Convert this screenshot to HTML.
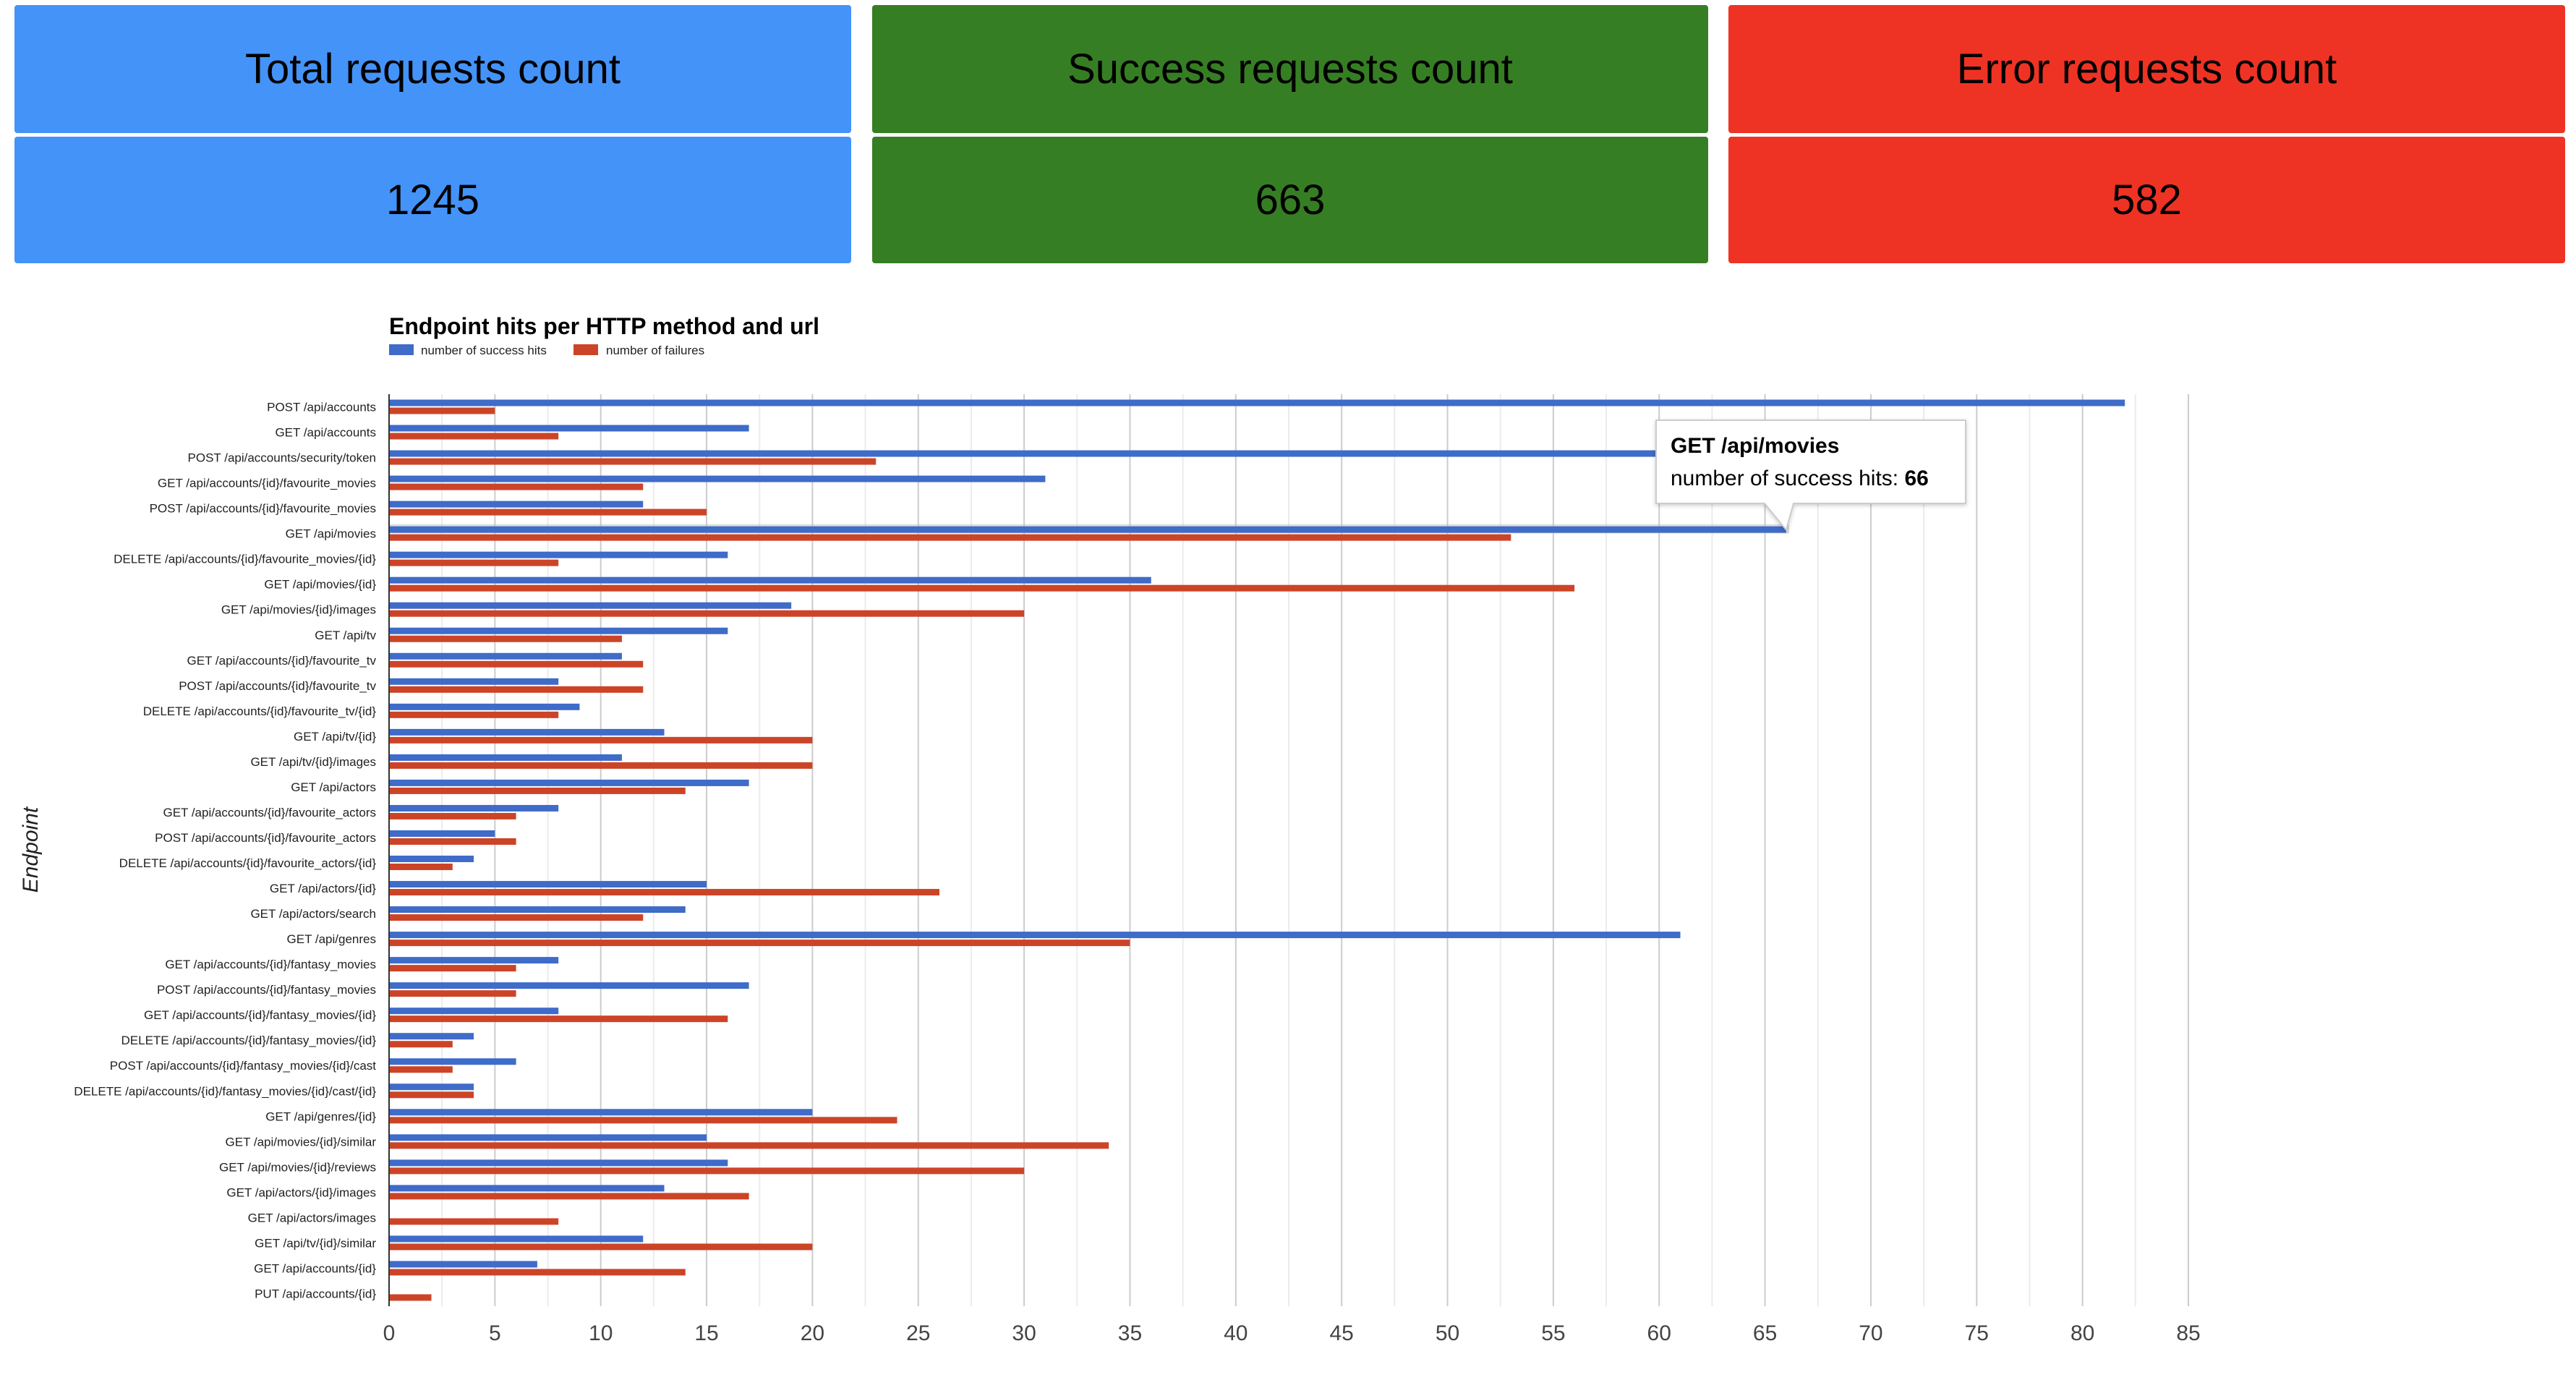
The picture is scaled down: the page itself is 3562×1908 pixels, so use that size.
<!DOCTYPE html>
<html><head><meta charset="utf-8">
<style>
html,body{margin:0;padding:0;background:#fff;width:3562px;height:1908px;overflow:hidden;font-family:"Liberation Sans",Arial,sans-serif}
.card{position:absolute;color:#000;display:flex;align-items:center;justify-content:center;font-size:58px;border-radius:4px}
</style></head><body>
<div class="card" style="left:20px;top:7px;width:1157px;height:177px;background:#4493f8">Total requests count</div>
<div class="card" style="left:20px;top:189px;width:1157px;height:175px;background:#4493f8">1245</div>
<div class="card" style="left:1206px;top:7px;width:1156px;height:177px;background:#367e23">Success requests count</div>
<div class="card" style="left:1206px;top:189px;width:1156px;height:175px;background:#367e23">663</div>
<div class="card" style="left:2390px;top:7px;width:1157px;height:177px;background:#ee3324">Error requests count</div>
<div class="card" style="left:2390px;top:189px;width:1157px;height:175px;background:#ee3324">582</div>
<svg id="chart" width="3562" height="1908" style="position:absolute;left:0;top:0" xmlns="http://www.w3.org/2000/svg"></svg>
<script>
const categories=["POST /api/accounts","GET /api/accounts","POST /api/accounts/security/token","GET /api/accounts/{id}/favourite_movies","POST /api/accounts/{id}/favourite_movies","GET /api/movies","DELETE /api/accounts/{id}/favourite_movies/{id}","GET /api/movies/{id}","GET /api/movies/{id}/images","GET /api/tv","GET /api/accounts/{id}/favourite_tv","POST /api/accounts/{id}/favourite_tv","DELETE /api/accounts/{id}/favourite_tv/{id}","GET /api/tv/{id}","GET /api/tv/{id}/images","GET /api/actors","GET /api/accounts/{id}/favourite_actors","POST /api/accounts/{id}/favourite_actors","DELETE /api/accounts/{id}/favourite_actors/{id}","GET /api/actors/{id}","GET /api/actors/search","GET /api/genres","GET /api/accounts/{id}/fantasy_movies","POST /api/accounts/{id}/fantasy_movies","GET /api/accounts/{id}/fantasy_movies/{id}","DELETE /api/accounts/{id}/fantasy_movies/{id}","POST /api/accounts/{id}/fantasy_movies/{id}/cast","DELETE /api/accounts/{id}/fantasy_movies/{id}/cast/{id}","GET /api/genres/{id}","GET /api/movies/{id}/similar","GET /api/movies/{id}/reviews","GET /api/actors/{id}/images","GET /api/actors/images","GET /api/tv/{id}/similar","GET /api/accounts/{id}","PUT /api/accounts/{id}"];
const successHits=[82,17,62,31,12,66,16,36,19,16,11,8,9,13,11,17,8,5,4,15,14,61,8,17,8,4,6,4,20,15,16,13,0,12,7,0];
const failures=[5,8,23,12,15,53,8,56,30,11,12,12,8,20,20,14,6,6,3,26,12,35,6,6,16,3,3,4,24,34,30,17,8,20,14,2];
const xTicks=[0,5,10,15,20,25,30,35,40,45,50,55,60,65,70,75,80,85];
const highlightIndex=5;

const svg=document.getElementById('chart');
const NS='http://www.w3.org/2000/svg';
const X0=538,X1=3026,XMAX=85,TOP=545,BOT=1806;
const xs=v=>X0+(X1-X0)*v/XMAX;
const band=(BOT-TOP)/categories.length;
const yc=i=>TOP+band*(i+0.5);
function mk(tag,attrs,parent){const e=document.createElementNS(NS,tag);for(const k in attrs)e.setAttribute(k,attrs[k]);(parent||svg).appendChild(e);return e;}

// title & legend
let t=mk('text',{x:538,y:462,'font-size':32,'font-weight':'bold',fill:'#000'});t.textContent='Endpoint hits per HTTP method and url';


let lg=mk('rect',{x:538,y:476,width:34,height:15,fill:'#3f6bc9'});


t=mk('text',{x:582,y:490,'font-size':17,fill:'#222'});t.textContent='number of success hits';


lg=mk('rect',{x:793,y:476,width:34,height:15,fill:'#cc4428'});


t=mk('text',{x:838,y:490,'font-size':17,fill:'#222'});t.textContent='number of failures';



// gridlines
for(let v=2.5;v<=XMAX;v+=5){const g=mk('line',{x1:xs(v),x2:xs(v),y1:TOP,y2:BOT,stroke:'#ebebeb','stroke-width':2});

}
xTicks.forEach(v=>{if(v===0)return;const g=mk('line',{x1:xs(v),x2:xs(v),y1:TOP,y2:BOT,stroke:'#cccccc','stroke-width':2});


});
xTicks.forEach(v=>{const tx=mk('text',{x:xs(v),y:1853,'font-size':30,fill:'#444','text-anchor':'middle'});tx.textContent=v;

});

// highlight row
const hl=mk('rect',{x:X0,y:yc(highlightIndex)-13,width:xs(successHits[highlightIndex])-X0+4,height:13,fill:'#bbb',opacity:0.5});



categories.forEach((c,i)=>{
  const lab=mk('text',{x:520,y:yc(i)+6,'font-size':17,fill:'#222','text-anchor':'end'});lab.textContent=c;
  
  
  const b=mk('rect',{x:X0,y:yc(i)-10,width:xs(successHits[i])-X0,height:9,fill:'#3f6bc9'});
  
  
  const r=mk('rect',{x:X0,y:yc(i)+1,width:xs(failures[i])-X0,height:9,fill:'#cc4428'});
  
  
});
const ax=mk('line',{x1:X0,x2:X0,y1:TOP,y2:BOT,stroke:'#333','stroke-width':2});



t=mk('text',{x:0,y:0,'font-size':30,'font-style':'italic',fill:'#222','text-anchor':'middle',transform:'translate(52,1175) rotate(-90)'});t.textContent='Endpoint';



// tooltip
const tipX=2290,tipY=581,tipW=428,tipH=115;
const px=xs(successHits[highlightIndex]),py=yc(highlightIndex)-5;
const tg=mk('g',{});


mk('path',{d:`M${tipX} ${tipY} h${tipW} v${tipH} H${tipX+190} L${px} ${py} L${tipX+150} ${tipY+tipH} H${tipX} Z`,fill:'#fff',stroke:'#ccc','stroke-width':2,filter:'drop-shadow(0 2px 3px rgba(0,0,0,0.2))'},tg);
t=mk('text',{x:tipX+20,y:tipY+45,'font-size':30,'font-weight':'bold',fill:'#000'},tg);t.textContent=categories[highlightIndex];
t=mk('text',{x:tipX+20,y:tipY+90,'font-size':30,fill:'#000'},tg);t.textContent='number of success hits: ';
const bs=mk('tspan',{'font-weight':'bold'},t);bs.textContent=successHits[highlightIndex];
</script>
</body></html>
